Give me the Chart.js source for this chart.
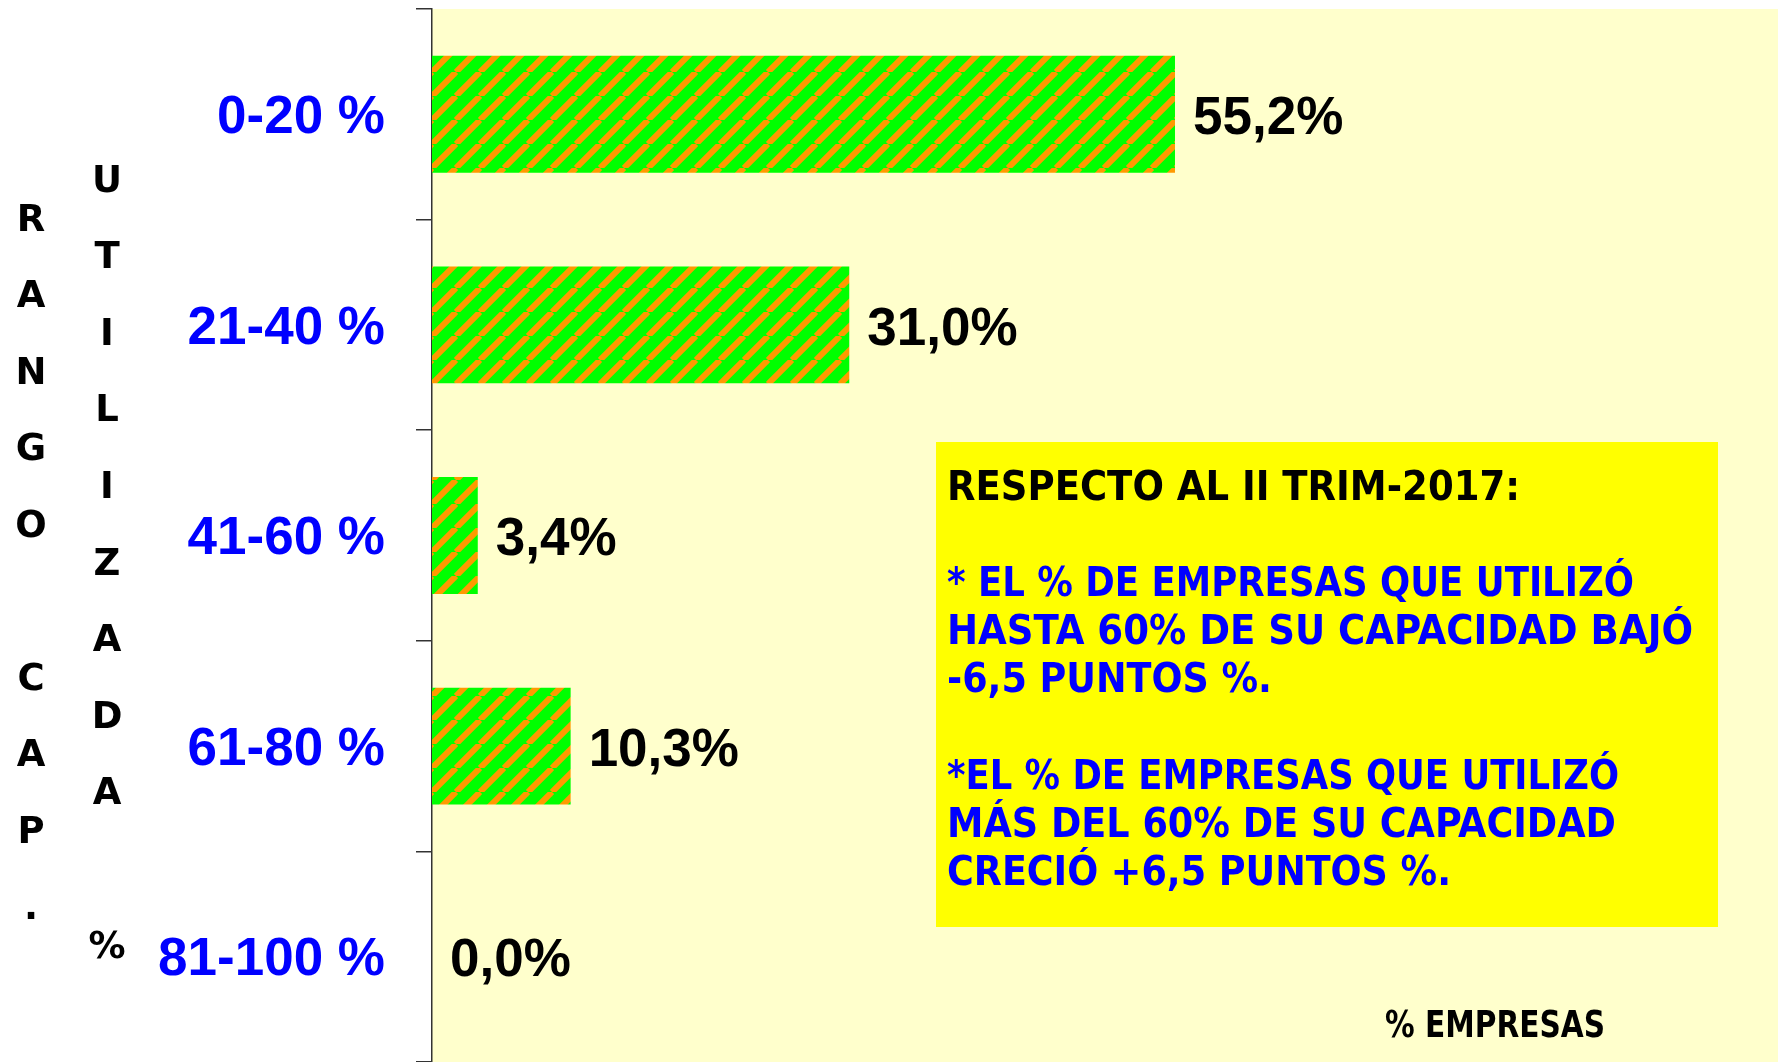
<!DOCTYPE html>
<html lang="es">
    <head>
        <meta charset="UTF-8" />
        <title>Rango capacidad utilizada</title>
        <script src="https://cdn.jsdelivr.net/npm/chart.js"></script>
        <style>
            body { margin: 0; background: #fff; }
            #wrap { width: 1781px; height: 1062px; position: relative; }
        </style>
    </head>
    <body>
        <div id="wrap"><canvas id="capChart"></canvas></div>

        <script>
            // data
            const rangos = ['0-20 %', '21-40 %', '41-60 %', '61-80 %', '81-100 %'];
            const empresas = [55.2, 31.0, 3.4, 10.3, 0.0];

            const leftTitle1 = 'RANGO CAP.';
            const leftTitle2 = 'UTILIZADA %';
            const xTitle = '% EMPRESAS';
            const noteLines = [
                { text: 'RESPECTO AL II TRIM-2017:', color: '#000000' },
                { text: '', color: '#0000FF' },
                { text: '* EL % DE EMPRESAS QUE UTILIZÓ', color: '#0000FF' },
                { text: 'HASTA 60% DE SU CAPACIDAD BAJÓ', color: '#0000FF' },
                { text: '-6,5 PUNTOS %.', color: '#0000FF' },
                { text: '', color: '#0000FF' },
                { text: '*EL % DE EMPRESAS QUE UTILIZÓ', color: '#0000FF' },
                { text: 'MÁS DEL 60% DE SU CAPACIDAD', color: '#0000FF' },
                { text: 'CRECIÓ +6,5 PUNTOS %.', color: '#0000FF' },
            ];
            // rendered width of each note line in the original (px)
            const noteWidths = [573, 0, 687, 746, 325, 0, 672, 669, 504];

            const sideFont = '"DejaVu Sans Condensed", "DejaVu Sans", sans-serif';

            function stripePattern() {
                const p = 24;
                const c = document.createElement('canvas');
                c.width = p;
                c.height = p;
                const g = c.getContext('2d');
                g.fillStyle = '#00FF00';
                g.fillRect(0, 0, p, p);
                g.strokeStyle = '#FF9900';
                g.lineWidth = 6;
                for (let k = -1; k <= 1; k++) {
                    g.beginPath();
                    g.moveTo(k * p, p);
                    g.lineTo(k * p + p, 0);
                    g.stroke();
                }
                return g.createPattern(c, 'repeat');
            }

            // draws text squeezed horizontally to a given width
            function squeezed(ctx, text, x, y, width) {
                const sx = width / ctx.measureText(text).width;
                ctx.save();
                ctx.translate(x, y);
                ctx.scale(sx, 1);
                ctx.fillText(text, 0, 0);
                ctx.restore();
            }

            const decorPlugin = {
                id: 'decor',
                beforeDraw(chart) {
                    const { ctx, chartArea } = chart;
                    ctx.save();
                    ctx.fillStyle = '#FFFFCC';
                    ctx.fillRect(chartArea.left, chartArea.top, chartArea.right - chartArea.left, chartArea.bottom - chartArea.top);
                    ctx.restore();
                },
                afterDatasetsDraw(chart) {
                    const { ctx } = chart;
                    ctx.save();

                    // value labels
                    ctx.fillStyle = '#000';
                    ctx.font = 'bold 53px "Liberation Sans", Arial, sans-serif';
                    ctx.textAlign = 'left';
                    ctx.textBaseline = 'middle';
                    chart.getDatasetMeta(0).data.forEach((bar, i) => {
                        const txt = empresas[i].toFixed(1).replace('.', ',') + '%';
                        ctx.fillText(txt, bar.x + 18, bar.y + 5);
                    });

                    // stacked letters on the left
                    ctx.font = 'bold 37px "DejaVu Sans", sans-serif';
                    ctx.textAlign = 'center';
                    [...leftTitle1].forEach((ch, i) => ctx.fillText(ch, 31, 221 + i * 76.5));
                    [...leftTitle2].forEach((ch, i) => ctx.fillText(ch, 107, 182 + i * 76.6));

                    // x axis title inside plot
                    ctx.textAlign = 'left';
                    ctx.font = 'bold 38px ' + sideFont;
                    squeezed(ctx, xTitle, 1385, 1027, 220);

                    // note box
                    ctx.fillStyle = '#FFFF00';
                    ctx.fillRect(936, 442, 1718 - 936, 927 - 442);
                    ctx.font = 'bold 41px ' + sideFont;
                    noteLines.forEach((line, i) => {
                        if (!line.text) return;
                        ctx.fillStyle = line.color;
                        squeezed(ctx, line.text, 947, 489 + i * 48.2, noteWidths[i]);
                    });

                    ctx.restore();
                },
            };

            const ctx = document.getElementById('capChart').getContext('2d');
            new Chart(ctx, {
                type: 'bar',
                data: {
                    labels: rangos,
                    datasets: [
                        {
                            data: empresas,
                            backgroundColor: stripePattern(),
                            borderWidth: 0,
                            barPercentage: 0.555,
                            categoryPercentage: 1,
                        },
                    ],
                },
                options: {
                    indexAxis: 'y',
                    responsive: true,
                    maintainAspectRatio: false,
                    animation: false,
                    layout: { padding: { top: 9, right: 3, left: 0, bottom: 0 } },
                    plugins: {
                        legend: { display: false },
                        tooltip: { enabled: false },
                    },
                    scales: {
                        x: { min: 0, max: 100, display: false },
                        y: {
                            offset: true,
                            grid: {
                                offset: true,
                                drawOnChartArea: false,
                                tickLength: 16,
                                color: '#333',
                                lineWidth: 1.5,
                            },
                            border: { display: true, color: '#333', width: 1.5 },
                            ticks: {
                                color: '#0000FF',
                                padding: 31,
                                labelOffset: 4,
                                font: { family: '"Liberation Sans", Arial, sans-serif', size: 53, weight: 'bold' },
                            },
                            afterFit(scale) {
                                scale.width = 432;
                                scale.paddingTop = 0;
                                scale.paddingBottom = 0;
                            },
                        },
                    },
                },
                plugins: [decorPlugin],
            });
        </script>
    </body>
</html>
